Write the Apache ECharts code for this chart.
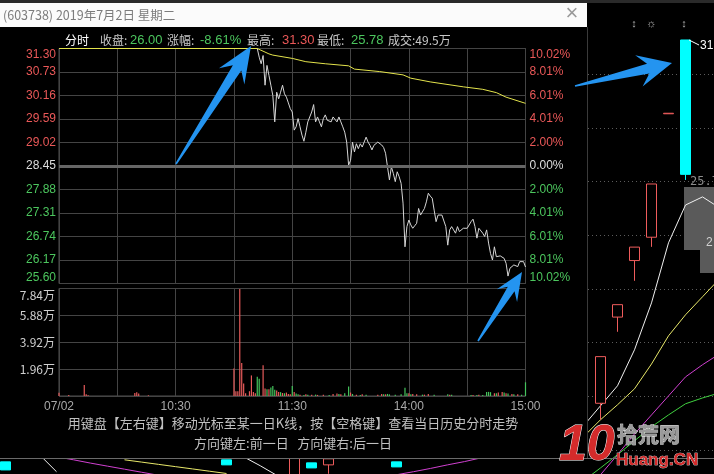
<!DOCTYPE html>
<html><head><meta charset="utf-8">
<script src="https://cdn.jsdelivr.net/npm/echarts@6.0.0/dist/echarts.min.js"></script>
<style>html,body{margin:0;padding:0;background:#000;}#c{width:714px;height:474px;}</style>
</head><body><div id="c"></div>
<script>
// ---------------- data ----------------
const PREV_CLOSE = 28.45;
const TITLE = '(603738) 2019年7月2日 星期二';
const HDR_CLOSE = '26.00', HDR_CHG = '-8.61%', HDR_HIGH = '31.30', HDR_LOW = '25.78', HDR_VOL = '49.5万';

// minute index (0 = 09:30, 240 = 15:00) , price
const pricePts = [
[0,31.30],[102,31.30],[103,31.09],[104,30.93],[105,31.13],[106,30.41],[107,30.89],[108,30.65],[109,30.41],[110,30.16],
[111,29.52],[112,30.24],[113,30.08],[114,30.24],[115,30.41],[116,30.20],[117,30.12],[118,29.98],[119,29.84],[120,29.76],
[121,29.32],[122,29.40],[123,29.60],[124,29.40],[125,29.20],[126,29.05],[127,29.27],[128,29.52],[129,29.64],[130,29.76],
[131,29.94],[132,29.52],[133,29.64],[134,29.52],[135,29.40],[136,29.60],[137,29.69],[138,29.56],[139,29.52],[140,29.52],
[141,29.64],[142,29.58],[143,29.52],[144,29.64],[145,29.52],[146,29.40],[147,29.27],[148,29.03],[149,28.47],[150,28.59],
[151,29.03],[152,28.79],[153,28.99],[154,28.87],[155,28.99],[156,28.91],[157,29.03],[158,29.15],[159,29.03],[160,28.95],
[161,28.84],[162,28.95],[163,28.96],[164,29.03],[165,29.02],[166,28.96],[167,28.90],[168,28.76],[169,28.43],[170,28.11],
[171,28.43],[172,28.27],[173,28.07],[174,28.31],[175,28.19],[176,28.03],[177,27.55],[178,26.49],[179,26.98],[180,27.14],
[181,27.02],[182,26.94],[183,27.00],[184,27.06],[185,27.42],[186,27.26],[187,27.22],[188,27.42],[189,27.58],[190,27.79],
[191,27.72],[192,27.67],[193,27.38],[194,27.10],[195,27.26],[196,27.30],[197,27.26],[198,27.22],[199,26.98],[200,26.53],
[201,26.90],[202,26.98],[203,26.90],[204,26.82],[205,26.98],[206,26.86],[207,26.90],[208,26.94],[209,26.90],[210,26.94],
[211,26.98],[212,27.10],[213,27.16],[214,26.98],[215,26.70],[216,26.94],[217,26.94],[218,26.82],[219,26.74],[220,26.90],
[221,26.58],[222,26.33],[223,26.17],[224,26.49],[225,26.25],[226,26.29],[227,26.27],[228,26.25],[229,26.21],[230,26.09],
[231,25.78],[232,25.97],[233,26.00],[234,26.05],[235,26.03],[236,26.01],[237,26.13],[238,26.13],[239,26.13],[240,26.00]
];
const avgPts = [
[0,31.30],[102,31.30],[108,31.17],[110,31.14],[120,31.06],[127,30.98],[137,30.93],[149,30.88],[152,30.80],[165,30.74],
[177,30.66],[181,30.58],[191,30.49],[208,30.37],[218,30.31],[225,30.23],[230,30.12],[240,29.97]
];
// volume (万) : [minute, volume]
const volRed = [
[0,0.24],[5,0.08],[13,0.80],[14,0.12],[15,0.06],[39,0.22],[40,0.28],[41,0.18],[46,0.05],
[90,2.00],[91,0.35],[92,0.35],[93,7.80],[94,2.40],[95,0.92],[96,0.20],[98,0.35],[99,1.50],[100,0.30],[101,0.20],
[105,2.25],[106,0.55],[108,0.50],[112,0.40],[113,0.30],[115,0.22],[117,0.25],[118,0.15],[119,0.12],[121,0.30],
[124,0.10],[127,0.12],[130,0.10],[133,0.08],[136,0.10],[141,0.15],[143,0.18],[145,0.12],[150,0.25],[153,0.10],
[156,0.12],[164,0.10],[166,0.15],[168,0.12],[180,0.20],[182,0.15],[184,0.12],[188,0.10],[190,0.15],[201,0.10],
[213,0.08],[216,0.10],[224,0.20],[226,0.25],[228,0.30],[230,0.20],[233,0.15],[236,0.12]
];
const volGreen = [
[102,1.40],[103,1.25],[107,0.50],[109,0.62],[110,0.73],[111,0.45],[114,0.28],[116,0.20],[120,0.73],[122,0.18],
[123,0.12],[126,0.08],[128,0.10],[132,0.10],[139,0.08],[144,0.15],[147,0.20],[149,0.70],[151,0.15],[155,0.08],
[158,0.10],[167,0.12],[169,0.15],[170,0.12],[173,0.10],[176,0.12],[178,0.60],[179,0.20],[181,0.12],[187,0.10],
[193,0.10],[200,0.12],[202,0.10],[212,0.08],[215,0.08],[218,0.08],[220,0.30],[221,0.30],[222,0.28],[225,0.20],
[229,0.25],[231,0.18],[234,0.12],[238,0.10],[240,1.00]
];
// axis ticks
const priceTicks = [31.30,30.73,30.16,29.59,29.02,28.45,27.88,27.31,26.74,26.17,25.60];
const priceTickLabels = ['31.30','30.73','30.16','29.59','29.02','28.45','27.88','27.31','26.74','26.17','25.60'];
const pctTicks = [10.02,8.01,6.01,4.01,2.00,0,-2.00,-4.01,-6.01,-8.01,-10.02];
const pctTickLabels = ['10.02%','8.01%','6.01%','4.01%','2.00%','0.00%','2.00%','4.01%','6.01%','8.01%','10.02%'];
const volTicks = [1.96,3.92,5.88,7.84];
const volTickLabels = ['1.96万','3.92万','5.88万','7.84万'];
const timeTicks = [0,60,120,180,240];
const timeTickLabels = ['07/02','10:30','11:30','14:00','15:00'];
const hintLine1 = '用键盘【左右键】移动光标至某一日K线，按【空格键】查看当日历史分时走势';
const hintLine2 = '方向键左:前一日   方向键右:后一日';

// daily K-line behind the dialog (only the uncovered parts are visible): [open, close, low, high]
const kDates = ['05/06','05/07','05/08','05/09','05/10','05/13','05/14','05/15','05/16','05/17',
  '05/20','05/21','05/22','05/23','05/24','05/27','05/28','05/29','05/30','05/31',
  '06/03','06/04','06/05','06/06','06/10','06/11','06/12','06/13','06/14','06/17',
  '06/18','06/19','06/20','06/21','06/24','06/25','06/26','06/27','06/28','07/01',
  '07/02','07/03','07/04'];
const kData = [
  [14.66,14.34,14.34,14.66],'-','-','-','-','-','-','-','-','-',
  '-','-','-',[14.74,14.54,14.54,14.74],'-','-','-',[14.10,15.20,14.10,15.20],[14.62,14.42,14.42,14.62],[14.54,14.78,14.19,14.78],
  '-','-','-',[14.66,14.46,14.46,14.66],'-','-','-','-','-','-',
  '-','-','-','-','-',[16.97,18.81,16.32,18.81],[20.37,20.86,19.79,20.86],[22.60,23.13,21.80,23.13],[23.52,25.62,23.14,25.62],[28.39,28.41,28.39,28.41],
  [31.30,26.00,25.78,31.30],'-','-'];
const ma5  = ['-','-',14.94,14.27,'-','-','-','-','-','-',
  '-','-','-','-',14.86,14.50,14.11,'-','-','-',
  '-','-','-','-','-','-','-','-','-','-',
  '-','-','-','-',16.08,16.87,17.66,19.08,20.93,23.30,
  24.79,25.11,24.68];
const ma10 = ['-','-','-','-','-','-','-',14.74,14.65,14.56,
  14.47,14.38,14.29,14.20,'-','-','-','-','-','-',
  '-','-','-','-','-','-','-','-','-','-',
  '-','-','-','-',15.65,16.32,16.91,17.54,18.52,19.63,
  20.46,21.17,21.88];
const ma20 = ['-','-','-',14.86,14.74,14.61,14.49,14.37,14.25,14.13,
  '-','-','-','-','-','-','-','-','-','-',
  '-','-','-',14.15,14.27,14.40,14.54,14.67,14.82,14.94,
  '-','-','-','-',13.36,14.15,14.94,15.76,16.51,17.26,
  18.01,18.49,18.92];
const ma30 = ['-','-','-','-','-','-','-','-','-','-',
  '-','-','-','-','-','-','-','-','-','-',
  '-','-','-','-','-','-','-','-','-','-',
  '-','-','-','-',13.91,14.42,14.94,15.49,16.04,16.51,
  16.95,17.18,17.38];

// ---------------- style ----------------
const FONT = "'Liberation Sans','Noto Sans CJK SC',sans-serif";
const CJK = "'Noto Sans CJK SC','Liberation Sans',sans-serif";
const RED = '#ea5858', GREEN = '#4cc65e', GRIDC = '#444444';

const chart = echarts.init(document.getElementById('c'), null, {renderer:'canvas', width:714, height:474});

function idxOf(arr, v){ let b=0, d=1e9; arr.forEach((x,i)=>{ if(Math.abs(x-v)<d){d=Math.abs(x-v);b=i;} }); return b; }
const labelRich = {
  rt:{color:RED,fontSize:12,fontFamily:FONT,padding:[13,0,0,0]},
  r:{color:RED,fontSize:12,fontFamily:FONT},
  w:{color:'#dddddd',fontSize:12,fontFamily:FONT},
  g:{color:GREEN,fontSize:12,fontFamily:FONT},
  gb:{color:GREEN,fontSize:12,fontFamily:FONT,padding:[0,0,11,0]},
  vt:{color:'#d0d0d0',fontSize:12,fontFamily:CJK,padding:[13,0,0,0]},
  v:{color:'#d0d0d0',fontSize:12,fontFamily:CJK}
};
function sideLabel(i, n, txt, up, flat){
  let k = flat ? 'w' : (up ? 'r' : 'g');
  if (i===0) k = 'rt';
  if (i===n-1) k = 'gb';
  return '{'+k+'|'+txt+'}';
}

function arrow(t, p, headLen, headHalf, neckHalf){
  const dx=p[0]-t[0], dy=p[1]-t[1], L=Math.hypot(dx,dy), ux=dx/L, uy=dy/L, nx=-uy, ny=ux;
  const nk=[p[0]-ux*headLen*0.72, p[1]-uy*headLen*0.72];
  const bb=[p[0]-ux*headLen, p[1]-uy*headLen];
  return {type:'polygon', z:20, silent:true, shape:{points:[
    [t[0]+nx*0.8,t[1]+ny*0.8],[nk[0]+nx*neckHalf,nk[1]+ny*neckHalf],[bb[0]+nx*headHalf,bb[1]+ny*headHalf],p,
    [bb[0]-nx*headHalf,bb[1]-ny*headHalf],[nk[0]-nx*neckHalf,nk[1]-ny*neckHalf],[t[0]-nx*0.8,t[1]-ny*0.8]]},
    style:{fill:'#2494f0'}};
}
function txt(x,y,text,fill,size,family,align,extra){
  return Object.assign({type:'text', x:x, y:y, z:6, silent:true, style:{text:text, fill:fill, fontSize:size,
    fontFamily:family||FONT, align:align||'left', verticalAlign:'middle'}}, extra||{});
}

const hdrItems = [
  ['分时',65,'#ffffff',CJK,12],['收盘:',100,'#c8c8c8',CJK,12],[HDR_CLOSE,130,GREEN,FONT,13],
  ['涨幅:',167,'#c8c8c8',CJK,12],[HDR_CHG,200,GREEN,FONT,13],['最高:',247,'#c8c8c8',CJK,12],
  [HDR_HIGH,282,RED,FONT,13],['最低:',317,'#c8c8c8',CJK,12],[HDR_LOW,351,GREEN,FONT,13],
  ['成交:'+HDR_VOL,388,'#c8c8c8',CJK,12]
];

const graphics = [
  {type:'rect', z:0.8, silent:true, shape:{x:0,y:0,width:587,height:458}, style:{fill:'#000'}},
  {type:'rect', z:5, silent:true, shape:{x:0,y:0,width:714,height:3}, style:{fill:'#2a2a2a'}},
  {type:'rect', z:5, silent:true, shape:{x:0,y:3,width:587,height:24}, style:{fill:'#fbfbfb'}},
  txt(3,15,TITLE,'#7c7c7c',12.5,CJK),
  txt(572,14,'×','#9a9a9a',22,FONT,'center'),
  {type:'line', z:5, silent:true, shape:{x1:587.5,y1:27,x2:587.5,y2:458}, style:{stroke:'#3a3a3a',lineWidth:1}},
  {type:'line', z:5, silent:true, shape:{x1:0,y1:458.5,x2:714,y2:458.5}, style:{stroke:'#6a6a6a',lineWidth:1}},
  txt(293,423,hintLine1,'#c0c0c0',13,CJK,'center'),
  txt(293,443,hintLine2,'#c0c0c0',13,CJK,'center'),
  // right panel marks
  txt(634,24,'↕','#b0b0b0',11,FONT,'center'),
  txt(651,24,'☼','#b0b0b0',11,FONT,'center'),
  txt(684,24,'↕','#b0b0b0',11,FONT,'center'),
  {type:'line', z:6, silent:true, shape:{x1:689,y1:40,x2:699,y2:45}, style:{stroke:'#ffffff',lineWidth:1}},
  txt(700,46,'31','#ffffff',12,FONT),
  txt(690,182,'25.7','#8c8c8c',12,"'DejaVu Sans Mono',monospace"),
  {type:'rect', z:0.3, silent:true, shape:{x:684,y:187,width:30,height:63}, style:{fill:'#5a5a5a'}},
  {type:'rect', z:0.3, silent:true, shape:{x:700,y:250,width:14,height:23}, style:{fill:'#5a5a5a'}},
  txt(706,243,'2','#d0d0d0',12,FONT),
  // watermark
  txt(559,446,'10','#d42b2b',50,"'Liberation Sans',sans-serif",'left',{style:{text:'10',fill:'#d42b2b',fontSize:50,fontWeight:'bold',fontStyle:'italic',fontFamily:"'Liberation Sans',sans-serif",verticalAlign:'middle',stroke:'#ffffff',lineWidth:1}}),
  txt(617,434,'拾荒网','#9a9a9a',21,CJK,'left',{style:{text:'拾荒网',fill:'#9a9a9a',fontSize:21,fontWeight:'bold',fontFamily:CJK,verticalAlign:'middle',stroke:'#ffffff',lineWidth:0.6}}),
  txt(616,460,'Huang.CN','#d42b2b',17,FONT,'left',{style:{text:'Huang.CN',fill:'#d42b2b',fontSize:17,fontWeight:'bold',fontFamily:FONT,verticalAlign:'middle',stroke:'#ffffff',lineWidth:0.6}}),
  // annotation arrows
  arrow([176,164],[251,46],36,15,5),
  arrow([478,341],[522,272],28,12,4),
  arrow([575,86],[672,63],34,16,5)
];
hdrItems.forEach(h => graphics.push(txt(h[1],40,h[0],h[2],h[4],h[3])));

const option = {
  backgroundColor:'#000',
  animation:false,
  grid:[
    {left:59,top:48.5,width:466.5,height:235,show:true,borderColor:'#505050',borderWidth:1,backgroundColor:'transparent',z:1,outerBoundsMode:'none'},
    {left:59,top:288.5,width:466.5,height:107.5,show:true,borderColor:'#505050',borderWidth:1,backgroundColor:'transparent',z:1,outerBoundsMode:'none'},
    {left:-3,top:25.8,width:731,height:448.2,show:false,z:0.2,outerBoundsMode:'none'},
    {left:588,top:25.8,width:126,height:424.2,show:false,z:0.2,outerBoundsMode:'none'}
  ],
  xAxis:[
    {type:'value',gridIndex:0,min:0,max:240,interval:30,z:1,axisLine:{show:false},axisTick:{show:false},axisLabel:{show:false},
      splitLine:{show:true,lineStyle:{color:GRIDC,width:1}}},
    {type:'value',gridIndex:1,min:0,max:240,interval:30,z:1,axisLine:{show:false},axisTick:{show:false},
      axisLabel:{show:true,color:'#a8a8a8',fontSize:12,fontFamily:FONT,margin:5,hideOverlap:false,
        formatter:v=>{const i=timeTicks.indexOf(Math.round(v)); return i>=0?timeTickLabels[i]:'';}},
      splitLine:{show:true,lineStyle:{color:GRIDC,width:1}}},
    {type:'category',gridIndex:2,data:kDates,boundaryGap:true,show:false,z:0.2},
    {type:'value',gridIndex:3,min:0,max:1,show:false}
  ],
  yAxis:[
    {type:'value',gridIndex:0,position:'left',min:25.60,max:31.30,z:1,axisLine:{show:false},
      axisTick:{show:false,customValues:priceTicks},
      axisLabel:{customValues:priceTicks,margin:3,fontSize:12,fontFamily:FONT,
        formatter:v=>{const i=idxOf(priceTicks,v); return sideLabel(i,priceTicks.length,priceTickLabels[i],priceTicks[i]>PREV_CLOSE,Math.abs(priceTicks[i]-PREV_CLOSE)<1e-6);},
        rich:labelRich},
      splitLine:{show:true,lineStyle:{color:GRIDC,width:1}}},
    {type:'value',gridIndex:0,position:'right',min:-10.02,max:10.02,z:1,axisLine:{show:false},
      axisTick:{show:false,customValues:pctTicks},
      axisLabel:{customValues:pctTicks,margin:4,fontSize:12,fontFamily:FONT,
        formatter:v=>{const i=idxOf(pctTicks,v); return sideLabel(i,pctTicks.length,pctTickLabels[i],pctTicks[i]>0,Math.abs(pctTicks[i])<1e-6);},
        rich:labelRich},
      splitLine:{show:false}},
    {type:'value',gridIndex:1,min:0,max:7.84,interval:1.96,z:1,axisLine:{show:false},axisTick:{show:false},
      axisLabel:{margin:4,fontSize:12,rich:labelRich,
        formatter:v=>{const i=idxOf(volTicks,v); if(v<0.01) return ''; return (i===volTicks.length-1?'{vt|':'{v|')+volTickLabels[i]+'}';}},
      splitLine:{show:true,lineStyle:{color:GRIDC,width:1}}},
    {type:'value',gridIndex:2,min:14.18,max:31.86,show:false},
    {type:'value',gridIndex:3,min:0,max:7.9,interval:1,z:0.2,axisLine:{show:false},axisTick:{show:false},axisLabel:{show:false},
      splitLine:{show:true,showMaxLine:false,lineStyle:{color:'#5c5c5c',width:1,type:[1,3]}}}
  ],
  series:[
    {type:'line',name:'price',xAxisIndex:0,yAxisIndex:0,data:pricePts,symbol:'none',z:3,
      lineStyle:{color:'#d6d6d6',width:1},
      markLine:{silent:true,symbol:['none','none'],label:{show:false},data:[{yAxis:PREV_CLOSE}],
        lineStyle:{color:'#666666',width:3,type:'solid'}}},
    {type:'line',name:'avg',xAxisIndex:0,yAxisIndex:0,data:avgPts,symbol:'none',z:3,
      lineStyle:{color:'#e4e44c',width:1}},
    {type:'bar',name:'volUp',xAxisIndex:1,yAxisIndex:2,data:volRed,barWidth:1.2,barGap:'-100%',z:3,
      itemStyle:{color:'#e65a5a'}},
    {type:'bar',name:'volDown',xAxisIndex:1,yAxisIndex:2,data:volGreen,barWidth:1.2,barGap:'-100%',z:3,
      itemStyle:{color:'#44c45c'}},
    {type:'candlestick',name:'K',xAxisIndex:2,yAxisIndex:3,data:kData,barWidth:11,z:0.5,
      itemStyle:{color:'#000000',color0:'#00ffff',borderColor:'#ee5c5c',borderColor0:'#00ffff',borderColorDoji:'#ee5c5c',borderWidth:1}},
    {type:'line',name:'MA5',xAxisIndex:2,yAxisIndex:3,data:ma5,symbol:'none',z:0.5,lineStyle:{color:'#f0f0f0',width:1}},
    {type:'line',name:'MA10',xAxisIndex:2,yAxisIndex:3,data:ma10,symbol:'none',z:0.5,lineStyle:{color:'#e8e86a',width:1}},
    {type:'line',name:'MA20',xAxisIndex:2,yAxisIndex:3,data:ma20,symbol:'none',z:0.5,lineStyle:{color:'#d040d0',width:1}},
    {type:'line',name:'MA30',xAxisIndex:2,yAxisIndex:3,data:ma30,symbol:'none',z:0.5,lineStyle:{color:'#40d040',width:1}}
  ],
  graphic:{elements:graphics}
};
chart.setOption(option);
</script></body></html>
